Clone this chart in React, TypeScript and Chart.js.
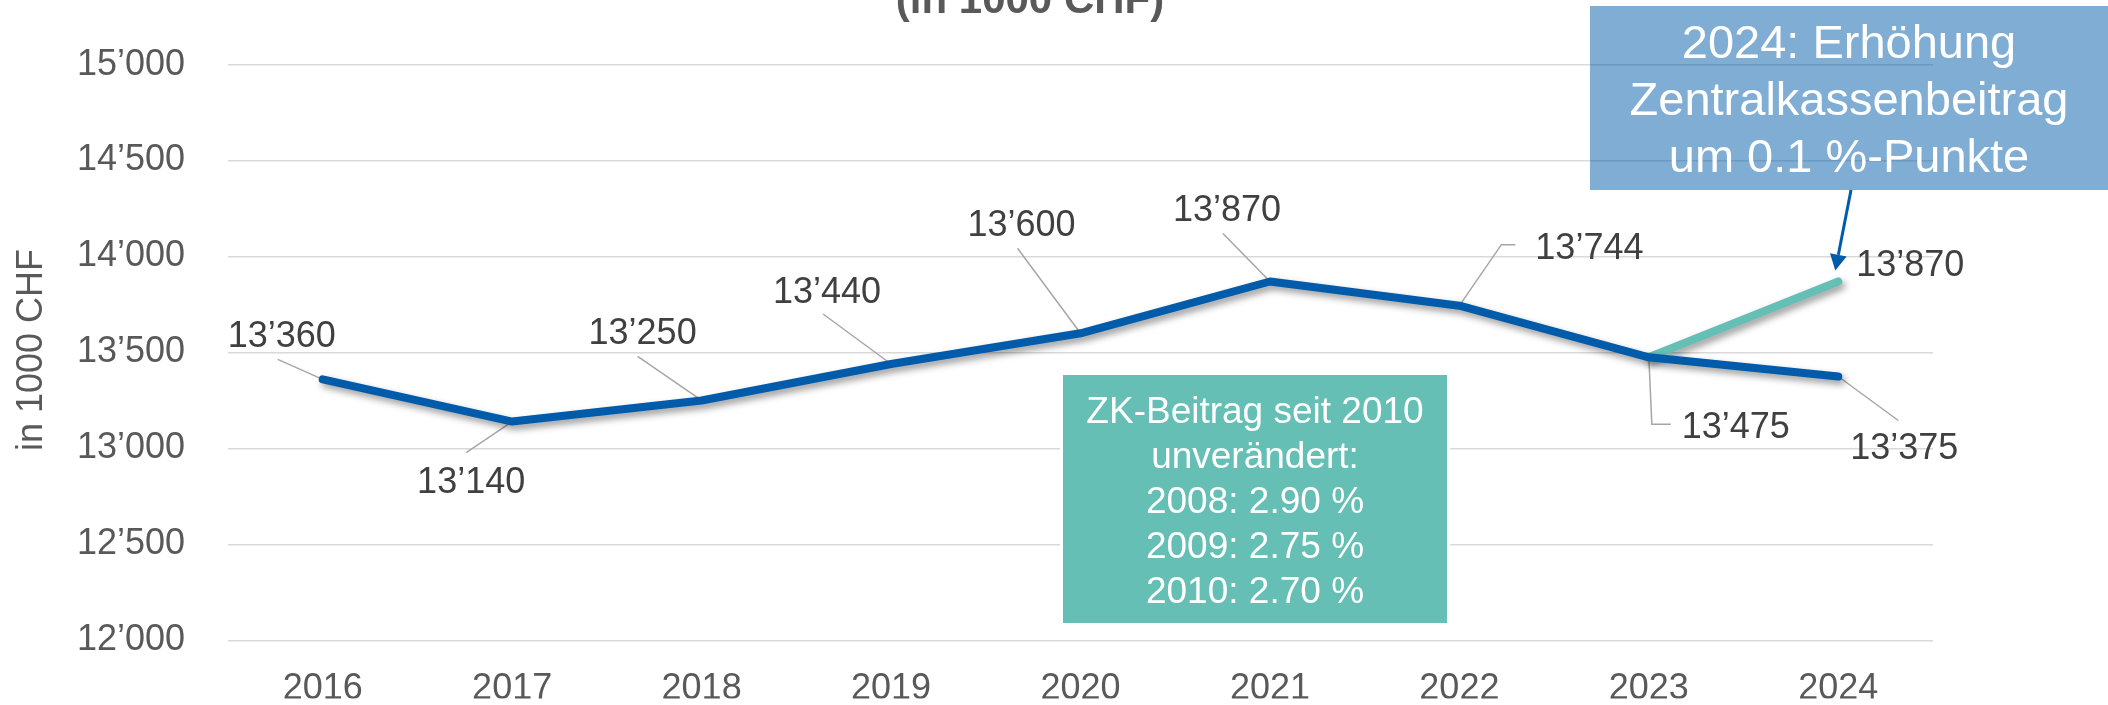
import React, { useEffect, useRef } from 'react';
import { Chart, registerables } from 'chart.js';

Chart.register(...registerables);

// ---------- data ----------
const years = ['2016', '2017', '2018', '2019', '2020', '2021', '2022', '2023', '2024'];
const baseValues = [13360, 13140, 13250, 13440, 13600, 13870, 13744, 13475, 13375];
const increaseValues: (number | null)[] = [null, null, null, null, null, null, null, 13475, 13870];
const yMin = 12000;
const yMax = 15000;
const yStep = 500;

const titleText = '(in 1000 CHF)';
const yAxisTitle = 'in 1000 CHF';
const blueBoxLines = ['2024: Erhöhung', 'Zentralkassenbeitrag', 'um 0.1 %-Punkte'];
const tealBoxLines = ['ZK-Beitrag seit 2010', 'unverändert:', '2008: 2.90 %', '2009: 2.75 %', '2010: 2.70 %'];

// ---------- styles ----------
const FONT = "'Liberation Sans', Arial, sans-serif";
const BLUE = '#005BAA';
const TEAL = '#66BFB4';
const GRAY_TEXT = '#595959';
const LABEL_TEXT = '#404040';

type LabelStyle = { dx: number; dy: number; leader: number[][] };
const baseLabelStyle: LabelStyle[] = [
  { dx: -41, dy: -45, leader: [[-45, -20]] },
  { dx: -41, dy: 58, leader: [[-46, 31]] },
  { dx: -59, dy: -69, leader: [[-64, -44]] },
  { dx: -64, dy: -74, leader: [[-68, -50]] },
  { dx: -59, dy: -110, leader: [[-63, -85]] },
  { dx: -43, dy: -73, leader: [[-47, -48]] },
  { dx: 130, dy: -60, leader: [[56, -61], [42, -61]] },
  { dx: 87, dy: 68, leader: [[22, 67], [3, 67]] },
  { dx: 66, dy: 70, leader: [[60, 44]] },
];
const increaseLabelStyle: Record<number, LabelStyle> = {
  8: { dx: 72, dy: -18, leader: [] },
};

const fmt = (v: number) => {
  const th = Math.floor(v / 1000);
  const rest = String(Math.round(v % 1000)).padStart(3, '0');
  return `${th}\u2019${rest}`;
};

const shadowPlugin = {
  id: 'lineShadow',
  beforeDatasetDraw(chart: any) {
    const ctx = chart.ctx;
    ctx.save();
    ctx.shadowColor = 'rgba(0,0,0,0.4)';
    ctx.shadowBlur = 7;
    ctx.shadowOffsetX = 3;
    ctx.shadowOffsetY = 4;
  },
  afterDatasetDraw(chart: any) {
    chart.ctx.restore();
  },
};

const leaderPlugin = {
  id: 'leaders',
  beforeDatasetsDraw(chart: any) {
    const ctx = chart.ctx;
    ctx.save();
    ctx.strokeStyle = '#a6a6a6';
    ctx.lineWidth = 1.5;
    const drawLeaders = (dsIndex: number, styles: Record<number, LabelStyle> | LabelStyle[]) => {
      const meta = chart.getDatasetMeta(dsIndex);
      meta.data.forEach((pt: any, i: number) => {
        const st = (styles as any)[i] as LabelStyle | undefined;
        if (!st || !st.leader.length || pt.skip) return;
        ctx.beginPath();
        ctx.moveTo(pt.x + st.leader[0][0], pt.y + st.leader[0][1]);
        for (let k = 1; k < st.leader.length; k++) ctx.lineTo(pt.x + st.leader[k][0], pt.y + st.leader[k][1]);
        ctx.lineTo(pt.x, pt.y);
        ctx.stroke();
      });
    };
    drawLeaders(0, baseLabelStyle);
    drawLeaders(1, increaseLabelStyle);
    ctx.restore();
  },
};

const overlayPlugin = {
  id: 'overlay',
  afterDraw(chart: any) {
    const ctx = chart.ctx;
    ctx.save();

    // Title (cut off at top)
    ctx.fillStyle = GRAY_TEXT;
    ctx.font = `bold 42px ${FONT}`;
    ctx.textAlign = 'center';
    ctx.textBaseline = 'alphabetic';
    ctx.fillText(titleText, 1030, 13);

    // Y axis title
    ctx.save();
    ctx.translate(32, 350);
    ctx.rotate(-Math.PI / 2);
    ctx.font = `36px ${FONT}`;
    ctx.textBaseline = 'middle';
    ctx.fillText(yAxisTitle, 0, 0);
    ctx.restore();

    // Data labels
    ctx.fillStyle = LABEL_TEXT;
    ctx.font = `36px ${FONT}`;
    ctx.textAlign = 'center';
    ctx.textBaseline = 'alphabetic';
    const drawLabels = (dsIndex: number, values: (number | null)[], styles: any) => {
      const meta = chart.getDatasetMeta(dsIndex);
      meta.data.forEach((pt: any, i: number) => {
        const st = styles[i] as LabelStyle | undefined;
        const v = values[i];
        if (!st || v == null) return;
        ctx.fillText(fmt(v), pt.x + st.dx, pt.y + st.dy + 13);
      });
    };
    drawLabels(0, baseValues, baseLabelStyle);
    drawLabels(1, increaseValues, increaseLabelStyle);

    // Teal info box
    ctx.fillStyle = '#ffffff';
    ctx.fillRect(1060, 372, 390, 253);
    ctx.fillStyle = TEAL;
    ctx.fillRect(1063, 375, 384, 248);
    ctx.fillStyle = '#ffffff';
    ctx.font = `37px ${FONT}`;
    tealBoxLines.forEach((line, k) => {
      ctx.fillText(line, 1255, 423 + k * 45);
    });

    // Blue callout box (semi-transparent)
    ctx.fillStyle = 'rgba(0,91,170,0.5)';
    ctx.fillRect(1590, 6, 518, 184);
    ctx.fillStyle = '#ffffff';
    ctx.font = `47px ${FONT}`;
    blueBoxLines.forEach((line, k) => {
      ctx.fillText(line, 1849, 58 + k * 57);
    });

    // Arrow from box to 2024 increase point
    const meta1 = chart.getDatasetMeta(1);
    const tipPt = meta1.data[8];
    const tipX = tipPt.x - 3;
    const tipY = tipPt.y - 11;
    const sx = 1851;
    const sy = 190;
    const ang = Math.atan2(tipY - sy, tipX - sx);
    const headLen = 16;
    const headW = 8.5;
    const bx = tipX - headLen * Math.cos(ang);
    const by = tipY - headLen * Math.sin(ang);
    ctx.strokeStyle = BLUE;
    ctx.lineWidth = 3;
    ctx.beginPath();
    ctx.moveTo(sx, sy);
    ctx.lineTo(bx, by);
    ctx.stroke();
    ctx.fillStyle = BLUE;
    ctx.beginPath();
    ctx.moveTo(tipX, tipY);
    ctx.lineTo(bx + headW * Math.sin(ang), by - headW * Math.cos(ang));
    ctx.lineTo(bx - headW * Math.sin(ang), by + headW * Math.cos(ang));
    ctx.closePath();
    ctx.fill();

    ctx.restore();
  },
};

export default function App() {
  const canvasRef = useRef<HTMLCanvasElement | null>(null);

  useEffect(() => {
    const canvas = canvasRef.current;
    if (!canvas) return;
    const chart = new Chart(canvas, {
      type: 'line',
      data: {
        labels: years,
        datasets: [
          {
            label: 'Beitrag',
            data: baseValues,
            borderColor: BLUE,
            backgroundColor: BLUE,
            borderWidth: 8,
            pointRadius: 0,
            pointHoverRadius: 0,
            borderCapStyle: 'round',
            borderJoinStyle: 'round',
            tension: 0,
          },
          {
            label: 'Erhöhung',
            data: increaseValues,
            borderColor: TEAL,
            backgroundColor: TEAL,
            borderWidth: 8,
            pointRadius: 0,
            pointHoverRadius: 0,
            borderCapStyle: 'round',
            borderJoinStyle: 'round',
            tension: 0,
            spanGaps: false,
          },
        ],
      },
      options: {
        responsive: false,
        animation: false,
        devicePixelRatio: 1,
        layout: { padding: { top: 63, right: 175, bottom: 0, left: 0 } },
        plugins: {
          legend: { display: false },
          tooltip: { enabled: false },
          title: { display: false },
        },
        scales: {
          x: {
            type: 'category',
            offset: true,
            grid: { display: false },
            border: { display: false },
            ticks: {
              color: GRAY_TEXT,
              font: { family: FONT, size: 36 },
              padding: 19,
              maxRotation: 0,
              autoSkip: false,
            },
            afterFit(scale: any) {
              scale.height = 58;
            },
          },
          y: {
            min: yMin,
            max: yMax,
            border: { display: false },
            grid: { color: '#d9d9d9', lineWidth: 1.5, drawTicks: false },
            ticks: {
              stepSize: yStep,
              color: GRAY_TEXT,
              font: { family: FONT, size: 36 },
              padding: 43,
              callback: (v: any) => fmt(Number(v)),
            },
            afterFit(scale: any) {
              scale.width = 228;
            },
          },
        },
      },
      plugins: [shadowPlugin, leaderPlugin, overlayPlugin],
    });
    return () => chart.destroy();
  }, []);

  return (
    <div style={{ position: 'absolute', left: 0, top: 0, width: 2108, height: 705, background: '#fff' }}>
      <canvas ref={canvasRef} width={2108} height={705} style={{ width: 2108, height: 705, display: 'block' }} />
    </div>
  );
}
